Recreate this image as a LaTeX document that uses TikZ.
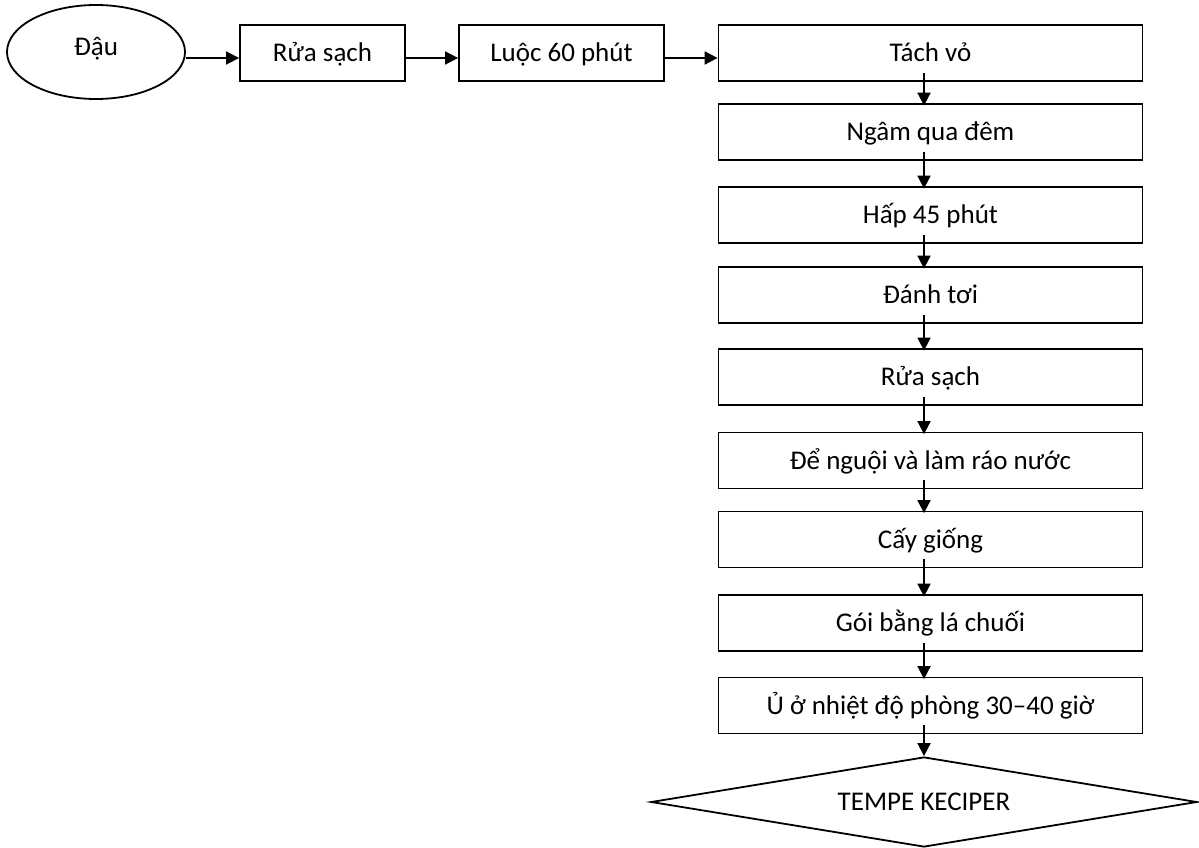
\documentclass[tikz,border=0pt]{standalone}
\usepackage{fontspec}
\setmainfont{Carlito}
\usetikzlibrary{shapes.geometric,arrows.meta}
\begin{document}
\begin{tikzpicture}[x=1pt,y=-1pt,
  every node/.style={font=\fontsize{27pt}{32pt}\selectfont, inner sep=0pt,
    text height=17.4pt, text depth=0pt},
  stepbox/.style={draw, rectangle, line width=1.8pt, minimum height=56pt},
  mainbox/.style={stepbox, minimum width=424pt},
  arr/.style={line width=1.8pt, -{Triangle[length=13pt,width=13pt]}},
]
\useasboundingbox (0,0) rectangle (1199,848);

% top row
\node[stepbox, minimum width=165pt] (r1) at (322.5,53) {Rửa sạch};
\node[stepbox, minimum width=205pt] (r2) at (561.5,53) {Luộc 60 phút};
\node[draw, ellipse, line width=1.8pt, minimum width=178pt, minimum height=94pt]
      (e) at (96,52) {};
\node[anchor=base, text height=, text depth=] (et) at (96,56) {Đậu};

% main column
\node[mainbox] (s1) at (930.5,53)    {Tách vỏ};
\node[mainbox] (s2) at (930.5,132)   {Ngâm qua đêm};
\node[mainbox] (s3) at (930.5,215)   {Hấp 45 phút};
\node[mainbox] (s4) at (930.5,295)   {Đánh tơi};
\node[mainbox] (s5) at (930.5,377)   {Rửa sạch};
\node[mainbox] (s6) at (930.5,460.5) {Để nguội và làm ráo nước};
\node[mainbox] (s7) at (930.5,539.5) {Cấy giống};
\node[mainbox] (s8) at (930.5,623)   {Gói bằng lá chuối};
\node[mainbox] (s9) at (930.5,705.5) {Ủ ở nhiệt độ phòng 30–40 giờ};

% final product
\node[draw, diamond, aspect=6, line width=1.8pt, minimum width=546pt, minimum height=90pt]
      (d) at (924,802) {TEMPE KECIPER};

% horizontal connectors
\draw[arr] ([yshift=-6pt]e.east)  -- ([yshift=-5pt]r1.west);
\draw[arr] ([yshift=-5pt]r1.east) -- ([yshift=-5pt]r2.west);
\draw[arr] ([yshift=-5pt]r2.east) -- ([yshift=-5pt]s1.west);

% vertical connectors
\foreach \a/\b in {s1/s2,s2/s3,s3/s4,s4/s5,s5/s6,s6/s7,s7/s8,s8/s9}
  \draw[arr] ([xshift=-6.5pt,yshift=9pt]\a.south) -- ([xshift=-6.5pt,yshift=-2.5pt]\b.north);
\draw[arr] ([xshift=-6.5pt,yshift=9pt]s9.south) -- (d.north);
\end{tikzpicture}
\end{document}
